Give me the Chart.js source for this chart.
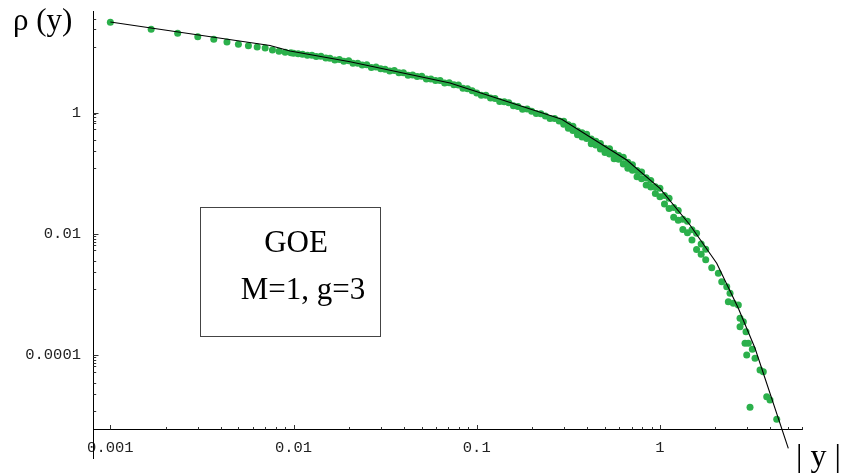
<!DOCTYPE html>
<html><head><meta charset="utf-8">
<style>html,body{margin:0;padding:0;background:#fff;overflow:hidden}canvas{display:block}</style>
<script src="https://cdn.jsdelivr.net/npm/chart.js@4.4.1/dist/chart.umd.min.js"></script>
</head><body>
<canvas id="c" width="844" height="476"></canvas>
<script>
// ---- data (log-log plot) ----
const dotX = [
 0.001,0.00167,0.00233,0.003,0.00367,0.00433,0.005,0.00567,0.00633,0.007,0.00767,0.00833,0.009,0.00967,
 0.0100,0.0106,0.0112,0.0119,0.0126,0.0133,0.0141,0.0150,0.0158,0.0168,0.0178,0.0188,0.0200,0.0211,0.0224,0.0237,0.0251,0.0266,0.0282,0.0299,
 0.0316,0.0335,0.0355,0.0376,0.0398,0.0422,0.0447,0.0473,0.0501,0.0531,0.0562,0.0596,0.0631,0.0668,0.0708,0.0750,0.0794,0.0841,0.0891,0.0944,
 0.100,0.1059,0.1122,0.1189,0.1259,0.1334,0.1413,0.1496,0.1585,0.1679,0.1778,0.1884,0.1995,0.2113,0.2239,0.2371,0.2512,0.2661,0.2818,
 0.2985,0.2985,0.3162,0.3162,0.3350,0.3350,0.3548,0.3548,0.3758,0.3758,0.3981,0.3981,0.4217,0.4217,0.4467,0.4467,0.4732,0.4732,
 0.5012,0.5012,0.5309,0.5309,0.5623,0.5623,0.5957,0.5957,0.6310,0.6310,0.6683,0.6683,0.7079,0.7079,0.7499,0.7499,0.7943,0.7943,
 0.8414,0.8414,0.8913,0.8913,0.9441,0.9441,1.000,1.000,1.059,1.059,1.122,1.122,1.189,1.189,1.259,1.259,1.334,1.334,1.413,1.413,
 1.496,1.496,1.585,1.585,1.679,1.679,1.778,1.778,
 1.918,2.084,2.175,2.316,2.414,2.363,2.516,2.679,2.737,2.853,2.737,2.951,2.914,3.038,3.195,2.977,3.305,3.519,3.667,3.828,3.990,3.103,4.342
];
const dotY = [
 30.6,23.5,20.2,17.7,16.1,14.5,13.3,12.6,12.0,11.6,10.7,10.2,9.82,9.68,
 9.50,9.32,9.14,8.76,8.79,8.33,8.46,7.92,7.86,7.36,7.47,7.00,7.10,6.48,6.46,6.08,6.14,5.52,5.64,5.25,
 5.17,4.82,4.92,4.52,4.51,4.11,4.14,3.90,3.94,3.58,3.57,3.37,3.36,3.05,3.08,2.86,2.83,2.52,2.47,2.28,
 2.104,1.921,1.923,1.736,1.698,1.515,1.500,1.451,1.294,1.252,1.129,1.144,1.044,0.9645,0.9546,0.8716,0.7955,0.7964,0.7274,
 0.7199,0.6415,0.6310,0.5495,0.5925,0.5043,0.4960,0.4319,0.4657,0.3964,0.4375,0.3724,0.3662,0.3045,0.3361,0.2927,0.3085,0.2507,
 0.2582,0.2198,0.2540,0.2064,0.2126,0.1728,0.1951,0.1700,0.1832,0.1422,0.1519,0.1207,0.1372,0.1115,0.1105,0.08776,0.1045,0.08111,
 0.08414,0.06383,0.07599,0.05898,0.05979,0.04641,0.05662,0.04102,0.04274,0.03096,0.03878,0.02621,0.02730,0.01889,0.02421,0.01675,0.01745,0.01179,0.01620,0.01046,
 0.01176,0.00795,0.01028,0.005521,0.006823,0.004611,0.005565,0.003762,
 2.775e-3,2.243e-3,1.631e-3,1.349e-3,1.050e-3,7.638e-4,7.187e-4,6.74e-4,4.07e-4,3.577e-4,2.96e-4,2.447e-4,1.577e-4,1.577e-4,1.256e-4,1.011e-4,8.924e-5,5.725e-5,5.369e-5,2.079e-5,1.835e-5,1.391e-5,8.822e-6
];
const curveX = [0.001,0.007441,0.00957,0.02034,0.07151,0.2911,0.6588,1.0,1.459,2.042,2.679,3.305,5.022];
const curveY = [31.0,12.70,10.31,6.870,3.062,0.7727,0.1650,0.05639,0.01402,0.003280,0.0005945,0.0001304,2.936e-6];

const xTickValues = [0.001,0.01,0.1,1];
const xMinorTicks = [0.002,0.003,0.004,0.005,0.006,0.007,0.008,0.009,
 0.02,0.03,0.04,0.05,0.06,0.07,0.08,0.09,0.2,0.3,0.4,0.5,0.6,0.7,0.8,0.9,2,3,4,5,6];
const yTickValues = [0.0001,0.01,1];
const yMinorTicks = [35.2,23.4,12.2,
 0.927,0.828,0.738,0.659,0.535,0.352,0.234,0.122,
 0.00927,0.00828,0.00738,0.00659,0.00535,0.00352,0.00234,0.00122,
 9.27e-5,8.28e-5,7.38e-5,6.59e-5,5.35e-5,3.52e-5,2.34e-5,1.22e-5];
const yAxisTitle = 'ρ (y)';
const xAxisTitle = '| y |';
const boxLines = ['GOE','M=1, g=3'];

const dots = dotX.map((x,i)=>({x, y: dotY[i]}));
const curve = curveX.map((x,i)=>({x, y: curveY[i]}));

const axesPlugin = {
  id: 'axesDeco',
  afterDraw(chart){
    const {ctx, chartArea:a, scales} = chart;
    const sx = scales.x, sy = scales.y;
    ctx.save();
    ctx.strokeStyle = '#000';
    ctx.lineWidth = 1;
    ctx.beginPath();
    const ax = Math.round(a.left) + 0.5, ay = Math.round(a.bottom) + 0.5;
    ctx.moveTo(ax, a.top); ctx.lineTo(ax, 459);
    ctx.moveTo(a.left, ay); ctx.lineTo(a.right, ay);
    ctx.stroke();
    ctx.strokeStyle = '#333';
    ctx.beginPath();
    xTickValues.forEach(v=>{ const p = Math.round(sx.getPixelForValue(v))+0.5; ctx.moveTo(p, ay); ctx.lineTo(p, ay-4.5); });
    xMinorTicks.forEach(v=>{ const p = Math.round(sx.getPixelForValue(v))+0.5; ctx.moveTo(p, ay); ctx.lineTo(p, ay-2.5); });
    yTickValues.forEach(v=>{ const p = Math.round(sy.getPixelForValue(v))+0.5; ctx.moveTo(ax, p); ctx.lineTo(ax+5, p); });
    yMinorTicks.forEach(v=>{ const p = Math.round(sy.getPixelForValue(v))+0.5; if (p < a.top) return; ctx.moveTo(ax, p); ctx.lineTo(ax+2.7, p); });
    ctx.stroke();

    // annotation box
    ctx.strokeStyle = '#444';
    ctx.strokeRect(200.5, 207.5, 180, 129);
    ctx.fillStyle = '#000';
    ctx.textAlign = 'center';
    ctx.textBaseline = 'alphabetic';
    ctx.font = '31px "Liberation Serif"';
    ctx.fillText(boxLines[0], 296, 252);
    ctx.fillText(boxLines[1], 303, 299);

    // axis titles
    ctx.textAlign = 'left';
    ctx.font = '31px "Liberation Serif"';
    ctx.fillText(yAxisTitle, 13, 30);
    ctx.font = '32px "Liberation Serif"';
    ctx.fillText(xAxisTitle, 796, 466);
    ctx.restore();
  }
};

new Chart(document.getElementById('c'), {
  type: 'scatter',
  data: {
    datasets: [
      { label: 'curve', data: curve, showLine: true, borderColor: '#000', borderWidth: 1.1,
        pointRadius: 0, order: 0, clip: false, tension: 0 },
      { label: 'data', data: dots, backgroundColor: '#2bb04b', borderWidth: 0,
        pointRadius: 3.5, order: 1 }
    ]
  },
  options: {
    responsive: false,
    animation: false,
    devicePixelRatio: 1,
    layout: { padding: { left: 0, top: 11, right: 41, bottom: 0 } },
    plugins: { legend: { display: false }, tooltip: { enabled: false } },
    scales: {
      x: {
        type: 'logarithmic', min: 0.000804, max: 6.04,
        grid: { display: false, drawTicks: false }, border: { display: false },
        afterBuildTicks: s => { s.ticks = xTickValues.map(v => ({ value: v })); },
        afterFit: s => { s.height = 47; s.paddingLeft = 0; s.paddingRight = 0; },
        ticks: { autoSkip: false, maxRotation: 0, padding: 10, color: '#222',
          font: { family: '"Liberation Mono"', size: 15.5 }, callback: v => String(v) }
      },
      y: {
        type: 'logarithmic', min: 6.11e-6, max: 47,
        grid: { display: false, drawTicks: false }, border: { display: false },
        afterBuildTicks: s => { s.ticks = yTickValues.map(v => ({ value: v })); },
        afterFit: s => { s.width = 93; s.paddingTop = 0; s.paddingBottom = 0; },
        ticks: { autoSkip: false, padding: 12, color: '#222',
          font: { family: '"Liberation Mono"', size: 15.5 }, callback: v => String(v) }
      }
    }
  },
  plugins: [axesPlugin]
});
</script>
</body></html>
